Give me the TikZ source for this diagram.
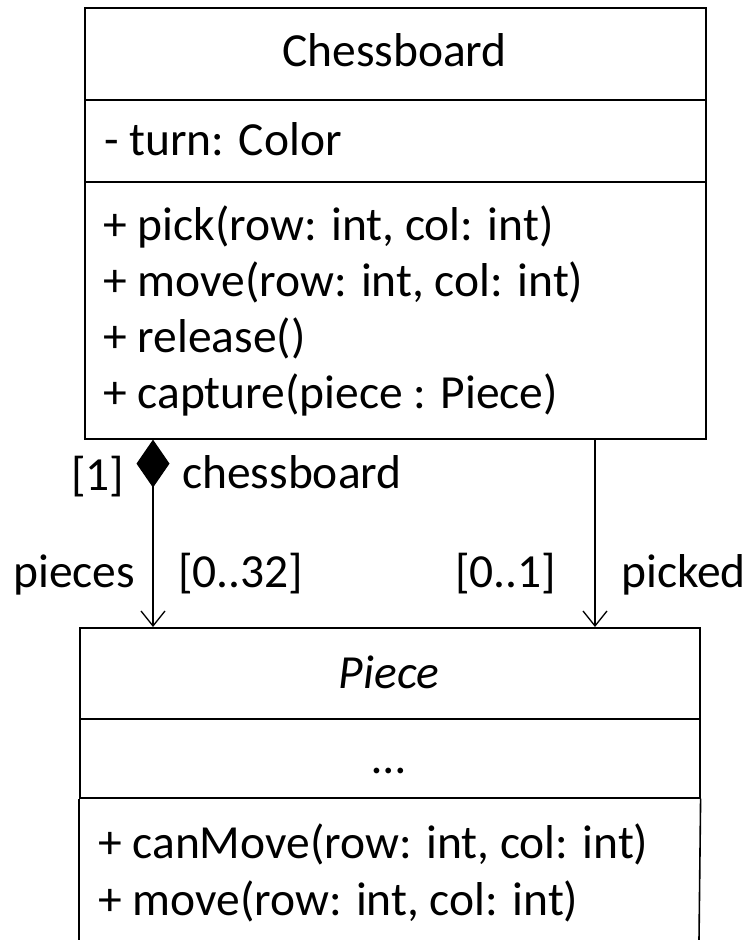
\documentclass[tikz,border=0pt]{standalone}
\usepackage{fontspec}
\setmainfont{Carlito}
\usetikzlibrary{arrows.meta,calc}
\tikzset{
  comp/.style={draw, line width=1.6pt, rectangle, inner sep=0pt, anchor=north west},
  txt/.style={inner sep=0pt, anchor=base west, font=\fontsize{47.5}{57}\selectfont},
  ctxt/.style={inner sep=0pt, anchor=base, font=\fontsize{47.5}{57}\selectfont},
  assoc/.style={line width=1.3pt},
}
\begin{document}
\begin{tikzpicture}[x=1pt,y=-1pt]
\useasboundingbox (0,0) rectangle (754,940);
% Chessboard class
\node[comp, minimum width=621pt, minimum height=92pt] (cbn) at (84,7) {};
\node[comp, minimum width=621pt, minimum height=82pt] (cba) at (84,99) {};
\node[comp, minimum width=621pt, minimum height=257pt] (cbm) at (84,181) {};
\node[ctxt] (cbname) at (394.5,66) {Chessboard};
\node[txt] (cbatt) at (104,155) {- turn: Color};
\node[txt] (cbm1) at (103,240) {+ pick(row: int, col: int)};
\node[txt] (cbm2) at (103,296) {+ move(row: int, col: int)};
\node[txt] (cbm3) at (103,352) {+ release()};
\node[txt] (cbm4) at (103,408) {+ capture(piece : Piece)};
% Piece class
\node[comp, minimum width=620pt, minimum height=91pt] (pcn) at (79,627) {};
\node[comp, minimum width=620pt, minimum height=79pt] (pca) at (79,718) {};
\coordinate (pcbl) at (79,940);
\coordinate (pcbr) at (699,940);
\draw[line width=1.6pt] (pca.south west) -- (pcbl);
\draw[line width=1.6pt] (pca.south east) -- (pcbr);
\node[ctxt, font=\fontsize{47.5}{57}\selectfont\itshape] (pcname) at (389,688) {Piece};
\node[ctxt] (pcatt) at (389,773) {…};
\node[txt] (pcm1) at (98,858) {+ canMove(row: int, col: int)};
\node[txt] (pcm2) at (98,915) {+ move(row: int, col: int)};
% associations
\draw[assoc, {Diamond[length=48pt,width=33pt]}-{Straight Barb[length=15pt,width=24pt]}]
  ([xshift=69pt]cbm.south west) -- ([xshift=74pt]pcn.north west);
\draw[assoc, -{Straight Barb[length=15pt,width=24pt]}]
  ([xshift=511pt]cbm.south west) -- ([xshift=516pt]pcn.north west);
% labels
\node[txt] (l1) at (71,490) {[1]};
\node[txt] (lcb) at (182,488) {chessboard};
\node[txt] (lpieces) at (13,587) {pieces};
\node[txt] (l032) at (178,587) {[0..32]};
\node[txt] (l01) at (455,587) {[0..1]};
\node[txt] (lpicked) at (621,587) {picked};
\end{tikzpicture}
\end{document}
